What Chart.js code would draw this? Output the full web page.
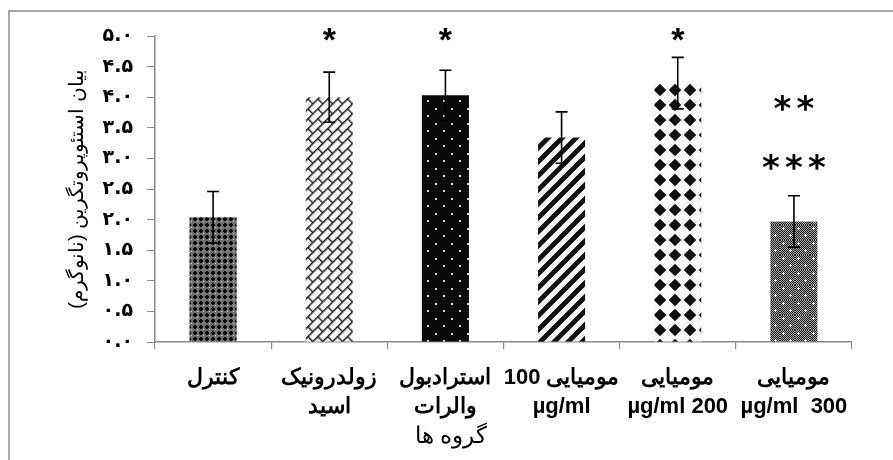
<!DOCTYPE html>
<html lang="fa">
<head>
  <meta charset="UTF-8">
  <title>OPG expression by group</title>
  <script src="https://cdn.jsdelivr.net/npm/chart.js"></script>
  <style>
    body {
      margin: 0;
      background: #ffffff;
    }
    #chart {
      display: block;
    }
  </style>
</head>
<body>
  <canvas id="chart" width="893" height="460"></canvas>
  <script>
    // data
    const groupLabels = [
      ['کنترل'],
      ['زولدرونیک', 'اسید'],
      ['استرادبول', 'والرات'],
      ['مومیایی 100', 'µg/ml'],
      ['مومیایی', 'µg/ml 200'],
      ['مومیایی', 'µg/ml  300']
    ];
    const opgMeans = [2.04, 4.00, 4.03, 3.34, 4.23, 1.97];
    const opgErrors = [0.42, 0.41, 0.41, 0.42, 0.42, 0.42];
    const yTickLabels = ['۰.۰', '۰.۵', '۱.۰', '۱.۵', '۲.۰', '۲.۵', '۳.۰', '۳.۵', '۴.۰', '۴.۵', '۵.۰'];
    const yTitle = 'بیان استئوپروتگرین (نانوگرم)';
    const xTitle = 'گروه ها';

    // significance marks: which bar, the text, and the level it sits at
    const sigBar = [1, 2, 4, 5, 5];
    const sigText = ['*', '*', '*', '**', '***'];
    const sigLevel = [5.03, 5.03, 5.03, 3.9, 2.94];

    const AXIS_GRAY = '#8a8a8a';

    function makePattern(w, h, draw, transform) {
      const tile = document.createElement('canvas');
      tile.width = w;
      tile.height = h;
      const g = tile.getContext('2d');
      draw(g, w, h);
      const p = document.createElement('canvas').getContext('2d').createPattern(tile, 'repeat');
      if (transform) p.setTransform(transform);
      return p;
    }

    // dark mesh
    const meshPattern = makePattern(6, 6, g => {
      g.fillStyle = '#6e6e6e';
      g.fillRect(0, 0, 6, 6);
      g.fillStyle = '#0a0a0a';
      g.fillRect(2, 1, 2, 4);
      g.fillRect(1, 2, 4, 2);
      g.fillStyle = '#d8d8d8';
      g.fillRect(5, 5, 1, 1);
    });

    // diagonal brick
    const brickPattern = makePattern(14, 14, g => {
      g.fillStyle = '#fafafa';
      g.fillRect(0, 0, 14, 14);
      g.strokeStyle = '#1a1a1a';
      g.lineWidth = 1.4;
      g.beginPath();
      g.moveTo(0, 0.7); g.lineTo(14, 0.7);
      g.moveTo(0, 7.7); g.lineTo(14, 7.7);
      g.moveTo(0.7, 0); g.lineTo(0.7, 7);
      g.moveTo(7.7, 7); g.lineTo(7.7, 14);
      g.stroke();
    }, new DOMMatrix().rotate(-45));

    // black with small light dots
    const dotPattern = makePattern(16, 15, g => {
      g.fillStyle = '#0a0a0a';
      g.fillRect(0, 0, 16, 15);
      g.fillStyle = '#d0d0d0';
      g.fillRect(3, 3, 2, 2);
      g.fillRect(11, 10, 2, 2);
    });

    // wide upward diagonal stripes
    const stripePattern = makePattern(14, 14, g => {
      g.fillStyle = '#fafafa';
      g.fillRect(0, 0, 14, 14);
      g.strokeStyle = '#111';
      g.lineWidth = 4.8;
      g.beginPath();
      g.moveTo(-2, 16); g.lineTo(16, -2);
      g.moveTo(-9, 9); g.lineTo(9, -9);
      g.moveTo(5, 23); g.lineTo(23, 5);
      g.stroke();
    });

    // diamond checker
    const diamondPattern = makePattern(15, 15, g => {
      g.fillStyle = '#fafafa';
      g.fillRect(0, 0, 15, 15);
      g.fillStyle = '#111';
      const r = 6.3;
      [[0, 0], [15, 0], [0, 15], [15, 15]].forEach(([cx, cy]) => {
        g.beginPath();
        g.moveTo(cx, cy - r);
        g.lineTo(cx + r, cy);
        g.lineTo(cx, cy + r);
        g.lineTo(cx - r, cy);
        g.closePath();
        g.fill();
      });
    });

    // fine gray dither with light dots
    const ditherPattern = makePattern(15, 15, g => {
      for (let y = 0; y < 15; y++) {
        for (let x = 0; x < 15; x++) {
          g.fillStyle = (x + y) % 2 ? '#a8a8a8' : '#1e1e1e';
          g.fillRect(x, y, 1, 1);
        }
      }
      g.fillStyle = '#ffffff';
      [[3, 3], [10, 10]].forEach(([cx, cy]) => {
        g.fillRect(cx - 1, cy, 3, 1);
        g.fillRect(cx, cy - 1, 1, 3);
      });
    });

    const barFills = [meshPattern, brickPattern, dotPattern, stripePattern, diamondPattern, ditherPattern];

    const framePlugin = {
      id: 'frame',
      beforeDraw(chart) {
        const ctx = chart.ctx;
        ctx.save();
        ctx.strokeStyle = AXIS_GRAY;
        ctx.lineWidth = 1.5;
        ctx.beginPath();
        ctx.moveTo(9, chart.height);
        ctx.lineTo(9, 11);
        ctx.lineTo(chart.width, 11);
        ctx.stroke();
        ctx.restore();
      }
    };

    const errorBarPlugin = {
      id: 'errorBars',
      afterDatasetsDraw(chart) {
        const ctx = chart.ctx;
        const y = chart.scales.y;
        const bars = chart.getDatasetMeta(0).data;
        ctx.save();
        ctx.strokeStyle = '#000';
        ctx.lineWidth = 1.6;
        bars.forEach((bar, i) => {
          const top = y.getPixelForValue(opgMeans[i] + opgErrors[i]);
          const bottom = y.getPixelForValue(opgMeans[i] - opgErrors[i]);
          ctx.beginPath();
          ctx.moveTo(bar.x, top);
          ctx.lineTo(bar.x, bottom);
          ctx.moveTo(bar.x - 6, top);
          ctx.lineTo(bar.x + 6, top);
          ctx.moveTo(bar.x - 6, bottom);
          ctx.lineTo(bar.x + 6, bottom);
          ctx.stroke();
        });
        ctx.restore();
      }
    };

    const marksPlugin = {
      id: 'marks',
      afterDraw(chart) {
        const ctx = chart.ctx;
        const y = chart.scales.y;
        const bars = chart.getDatasetMeta(0).data;
        ctx.save();
        ctx.fillStyle = '#000';
        ctx.textAlign = 'center';
        ctx.textBaseline = 'alphabetic';
        sigText.forEach((txt, k) => {
          // single stars are bold sans, the stacked ones a wider six-armed star
          ctx.font = txt.length === 1
            ? "bold 34px 'Liberation Sans', Arial, sans-serif"
            : "bold 34px 'DejaVu Sans', sans-serif";
          const m = ctx.measureText('*');
          const cy = y.getPixelForValue(sigLevel[k]);
          const base = cy + (m.actualBoundingBoxAscent - m.actualBoundingBoxDescent) / 2;
          const cx = bars[sigBar[k]].x;
          const n = txt.length;
          for (let j = 0; j < n; j++) {
            ctx.fillText('*', cx + (j - (n - 1) / 2) * 23, base);
          }
        });

        // x axis title sits a little left of centre in the original
        const area = chart.chartArea;
        ctx.font = "23px 'Liberation Sans', Arial, sans-serif";
        ctx.textBaseline = 'middle';
        ctx.fillText(xTitle, area.left + (area.right - area.left) * 0.425, 437);
        ctx.restore();
      }
    };

    new Chart(document.getElementById('chart'), {
      type: 'bar',
      data: {
        labels: groupLabels,
        datasets: [{
          label: yTitle,
          data: opgMeans,
          backgroundColor: barFills,
          borderWidth: 0,
          categoryPercentage: 0.405,
          barPercentage: 1
        }]
      },
      options: {
        responsive: false,
        devicePixelRatio: 1,
        animation: false,
        layout: {
          padding: { left: 0, right: 41, top: 36, bottom: 0 }
        },
        plugins: {
          legend: { display: false },
          tooltip: { enabled: false }
        },
        scales: {
          x: {
            afterFit: s => { s.height = 118; },
            border: { display: true, color: AXIS_GRAY, width: 1.5 },
            grid: {
              drawOnChartArea: false,
              drawTicks: true,
              tickLength: 7,
              color: AXIS_GRAY,
              lineWidth: 1.2
            },
            ticks: {
              autoSkip: false,
              maxRotation: 0,
              minRotation: 0,
              padding: 14,
              color: '#000',
              font: {
                family: "'Liberation Sans', Arial, sans-serif",
                size: 22,
                weight: 'bold',
                lineHeight: 29 / 22
              }
            }
          },
          y: {
            min: 0,
            max: 5,
            afterFit: s => { s.width = 155; },
            border: { display: true, color: AXIS_GRAY, width: 1.5 },
            grid: {
              drawOnChartArea: false,
              drawTicks: true,
              tickLength: 8,
              color: AXIS_GRAY,
              lineWidth: 1
            },
            ticks: {
              stepSize: 0.5,
              padding: 14,
              color: '#000',
              font: {
                family: "'DejaVu Sans', sans-serif",
                size: 19,
                weight: 'bold'
              },
              callback: (value, index) => yTickLabels[index]
            },
            title: {
              display: true,
              text: '\u200F' + yTitle + '\u200F',
              color: '#000',
              padding: { top: 65, bottom: 0 },
              font: {
                family: "'Liberation Sans', Arial, sans-serif",
                size: 20
              }
            }
          }
        }
      },
      plugins: [framePlugin, errorBarPlugin, marksPlugin]
    });
  </script>
</body>
</html>
